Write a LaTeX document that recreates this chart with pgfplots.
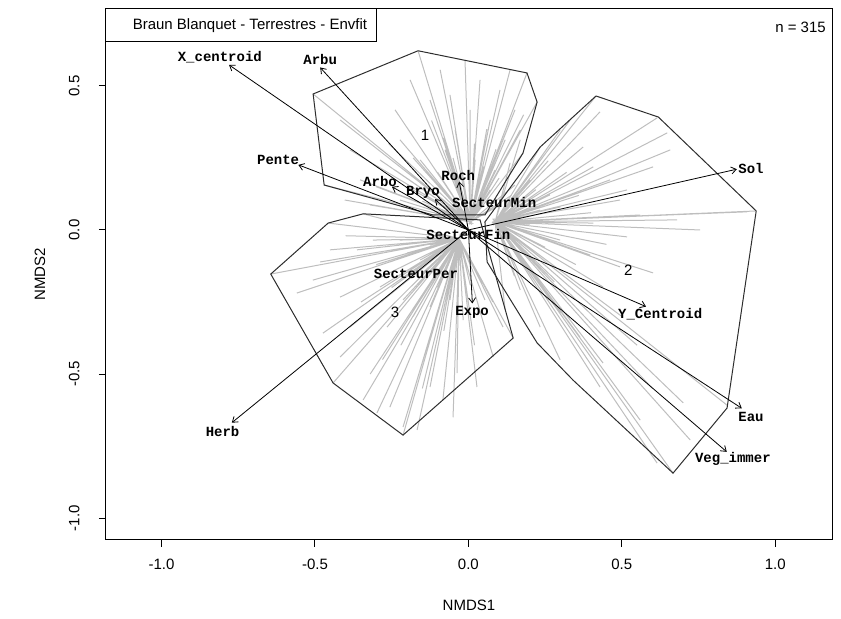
\documentclass[border=0pt]{standalone}
\usepackage{fontspec}
\setmainfont{Liberation Sans}
\setmonofont{Liberation Mono}
\usepackage{pgfplots}
\pgfplotsset{compat=1.18}
\usetikzlibrary{arrows.meta}

\definecolor{spider}{RGB}{190,190,190}
\definecolor{hull}{RGB}{45,45,45}
\newcommand\vlab[1]{{\fontsize{7}{8}\selectfont\ttfamily\bfseries #1}}
\newcommand\sans{\fontsize{7.5}{9}\selectfont}

\begin{document}
\begin{tikzpicture}
\useasboundingbox (-53pt,-39.5pt) rectangle (367.5pt,270pt);
\begin{axis}[
    at={(0,0)}, anchor=south west,
    scale only axis, width=363pt, height=265.5pt,
    xmin=-1.181, xmax=1.185, ymin=-1.076, ymax=0.767,
    xtick={-1,-0.5,0,0.5,1}, ytick={-1,-0.5,0,0.5},
    tick align=outside, major tick length=3.5pt,
    xtick pos=left, ytick pos=left,
    tick style={black, line width=0.5pt},
    axis line style={black, line width=0.5pt},
    xticklabel style={font=\sans, anchor=north, inner sep=0pt},
    yticklabel style={font=\sans, rotate=90, anchor=south, inner sep=0pt},
    xticklabel shift=6pt, yticklabel shift=9.5pt,
    /pgf/number format/.cd, fixed, fixed zerofill, precision=1, assume math mode=true,
    /pgfplots/.cd,
    xlabel={NMDS1}, ylabel={NMDS2},
    every axis x label/.style={at={(axis description cs:0.5,0)}, anchor=center, yshift=-32.5pt, font=\sans},
    every axis y label/.style={at={(axis description cs:0,0.5)}, anchor=center, rotate=90, yshift=33pt, font=\sans},
]

% spiders: centre -> sites (group 1)
\addplot[spider, line width=0.5pt, mark=none] coordinates {
(0.006,0.028) (-0.164,0.622) (0.006,0.028) (-0.506,0.472) (0.006,0.028) (-0.470,0.156)
(0.006,0.028) (0.191,0.545) (0.006,0.028) (0.224,0.444) (0.006,0.028) (0.178,0.267)
(0.006,0.028) (-0.239,0.417) (0.006,0.028) (-0.223,0.313) (0.006,0.028) (-0.190,0.521)
(0.006,0.028) (-0.125,0.451) (0.006,0.028) (-0.092,0.556) (0.006,0.028) (-0.060,0.469)
(0.006,0.028) (-0.043,0.347) (0.006,0.028) (-0.011,0.590) (0.006,0.028) (0.006,0.417)
(0.006,0.028) (0.038,0.521) (0.006,0.028) (0.071,0.382) (0.006,0.028) (0.103,0.486)
(0.006,0.028) (0.120,0.313) (0.006,0.028) (0.136,0.556) (0.006,0.028) (0.152,0.417)
(0.006,0.028) (-0.239,0.208) (0.006,0.028) (-0.386,0.278) (0.006,0.028) (-0.418,0.382)
(0.006,0.028) (-0.353,0.174) (0.006,0.028) (-0.288,0.243) (0.006,0.028) (-0.157,0.243)
(0.006,0.028) (-0.076,0.278) (0.006,0.028) (0.022,0.243) (0.006,0.028) (0.087,0.208)
(0.006,0.028) (0.169,0.347) (0.006,0.028) (-0.403,0.104) (0.006,0.028) (-0.321,0.087)
(0.006,0.028) (-0.223,0.104) (0.006,0.028) (-0.125,0.139) (0.006,0.028) (-0.043,0.156)
(0.006,0.028) (0.071,0.139) (0.006,0.028) (0.152,0.156) (0.006,0.028) (0.103,0.087)
(0.006,0.028) (-0.100,0.200) (0.006,0.028) (-0.050,0.250) (0.006,0.028) (0.050,0.220)
(0.006,0.028) (0.100,0.180) (0.006,0.028) (-0.150,0.100) (0.006,0.028) (-0.200,0.150)
(0.006,0.028) (0.120,0.250) (0.006,0.028) (-0.080,0.320) (0.006,0.028) (0.020,0.300)
(0.006,0.028) (0.060,0.350) (0.006,0.028) (-0.180,0.250) (0.006,0.028) (-0.300,0.150)
(0.006,0.028) (0.140,0.120) (0.006,0.028) (-0.120,0.380) (0.006,0.028) (0.090,0.280)
(0.006,0.028) (-0.020,0.120) (0.006,0.028) (-0.260,0.300) (0.006,0.028) (0.180,0.400)
};
% group 2
\addplot[spider, line width=0.5pt, mark=none] coordinates {
(0.087,0.028) (0.416,0.465) (0.087,0.028) (0.429,0.410) (0.087,0.028) (0.615,0.389)
(0.087,0.028) (0.648,0.337) (0.087,0.028) (0.658,0.278) (0.087,0.028) (0.602,0.219)
(0.087,0.028) (0.938,0.066) (0.087,0.028) (0.908,0.063) (0.087,0.028) (0.517,-0.024)
(0.087,0.028) (0.407,0.024) (0.087,0.028) (0.602,-0.149) (0.087,0.028) (0.494,-0.128)
(0.087,0.028) (0.439,-0.198) (0.087,0.028) (0.354,-0.219) (0.087,0.028) (0.299,-0.288)
(0.087,0.028) (0.234,-0.337) (0.087,0.028) (0.364,-0.372) (0.087,0.028) (0.439,-0.462)
(0.087,0.028) (0.299,-0.451) (0.087,0.028) (0.843,-0.608) (0.087,0.028) (0.667,-0.844)
(0.087,0.028) (0.615,-0.809) (0.087,0.028) (0.429,-0.545) (0.087,0.028) (0.136,0.233)
(0.087,0.028) (0.169,0.313) (0.087,0.028) (0.234,0.288) (0.087,0.028) (0.299,0.347)
(0.087,0.028) (0.332,0.382) (0.087,0.028) (0.374,0.288) (0.087,0.028) (0.407,0.219)
(0.087,0.028) (0.517,0.139) (0.087,0.028) (0.462,0.174) (0.087,0.028) (0.680,0.035)
(0.087,0.028) (0.755,0.000) (0.087,0.028) (0.234,0.069) (0.087,0.028) (0.299,-0.035)
(0.087,0.028) (0.201,-0.104) (0.087,0.028) (0.266,0.122) (0.087,0.028) (0.169,-0.208)
(0.087,0.028) (0.120,-0.278) (0.087,0.028) (0.397,-0.087) (0.087,0.028) (0.201,0.174)
(0.087,0.028) (0.494,0.104) (0.087,0.028) (0.560,0.052) (0.087,0.028) (0.723,-0.729)
(0.087,0.028) (0.560,-0.660) (0.087,0.028) (0.200,0.020) (0.087,0.028) (0.250,-0.060)
(0.087,0.028) (0.300,0.080) (0.087,0.028) (0.220,0.140) (0.087,0.028) (0.180,-0.120)
(0.087,0.028) (0.350,-0.120) (0.087,0.028) (0.320,0.200) (0.087,0.028) (0.400,0.060)
(0.087,0.028) (0.280,-0.180) (0.087,0.028) (0.150,-0.160) (0.087,0.028) (0.360,0.120)
(0.087,0.028) (0.450,-0.050) (0.087,0.028) (0.260,0.240) (0.087,0.028) (0.210,-0.250)
(0.087,0.028) (0.500,-0.300) (0.087,0.028) (0.550,-0.400) (0.087,0.028) (0.600,-0.550)
(0.087,0.028) (0.700,-0.600)
};
% group 3
\addplot[spider, line width=0.5pt, mark=none] coordinates {
(-0.030,-0.030) (-0.644,-0.153) (-0.030,-0.030) (-0.441,-0.531) (-0.030,-0.030) (-0.213,-0.712)
(-0.030,-0.030) (-0.457,0.024) (-0.030,-0.030) (-0.343,0.056) (-0.030,-0.030) (0.146,-0.375)
(-0.030,-0.030) (-0.451,-0.069) (-0.030,-0.030) (-0.483,-0.111) (-0.030,-0.030) (-0.418,-0.233)
(-0.030,-0.030) (-0.386,-0.337) (-0.030,-0.030) (-0.418,-0.441) (-0.030,-0.030) (-0.343,-0.590)
(-0.030,-0.030) (-0.298,-0.635) (-0.030,-0.030) (-0.256,-0.615) (-0.030,-0.030) (-0.213,-0.684)
(-0.030,-0.030) (-0.167,-0.694) (-0.030,-0.030) (-0.125,-0.545) (-0.030,-0.030) (-0.083,-0.590)
(-0.030,-0.030) (-0.037,-0.497) (-0.030,-0.030) (0.028,-0.545) (-0.030,-0.030) (0.081,-0.441)
(-0.030,-0.030) (0.113,-0.337) (-0.030,-0.030) (-0.507,-0.174) (-0.030,-0.030) (-0.559,-0.219)
(-0.030,-0.030) (-0.474,-0.358) (-0.030,-0.030) (-0.288,-0.198) (-0.030,-0.030) (-0.213,-0.243)
(-0.030,-0.030) (-0.265,-0.337) (-0.030,-0.030) (-0.125,-0.267) (-0.030,-0.030) (-0.017,-0.313)
(-0.030,-0.030) (-0.363,-0.069) (-0.030,-0.030) (-0.311,-0.035) (-0.030,-0.030) (-0.157,-0.104)
(-0.030,-0.030) (-0.092,-0.174) (-0.030,-0.030) (-0.223,-0.035) (-0.030,-0.030) (-0.060,-0.243)
(-0.030,-0.030) (-0.190,-0.156) (-0.030,-0.030) (-0.125,-0.052) (-0.030,-0.030) (-0.256,-0.111)
(-0.030,-0.030) (-0.043,-0.122) (-0.030,-0.030) (0.006,-0.191) (-0.030,-0.030) (0.054,-0.243)
(-0.030,-0.030) (-0.150,-0.150) (-0.030,-0.030) (-0.200,-0.080) (-0.030,-0.030) (-0.100,-0.200)
(-0.030,-0.030) (-0.250,-0.200) (-0.030,-0.030) (-0.050,-0.150) (-0.030,-0.030) (-0.300,-0.120)
(-0.030,-0.030) (-0.180,-0.300) (-0.030,-0.030) (-0.080,-0.350) (-0.030,-0.030) (-0.120,-0.420)
(-0.030,-0.030) (-0.220,-0.400) (-0.030,-0.030) (-0.350,-0.250) (-0.030,-0.030) (-0.400,-0.020)
(-0.030,-0.030) (-0.280,-0.450) (-0.030,-0.030) (0.020,-0.400) (-0.030,-0.030) (-0.150,-0.550)
(-0.030,-0.030) (-0.050,-0.650) (-0.030,-0.030) (0.080,-0.250) (-0.030,-0.030) (-0.320,-0.500)
};

% hulls
\addplot[hull, line width=0.5pt, mark=none] coordinates {
(-0.164,0.622) (0.191,0.545) (0.224,0.444) (0.178,0.267) (0.054,0.052)
(-0.115,0.052) (-0.470,0.156) (-0.506,0.472) (-0.164,0.622)};
\addplot[hull, line width=0.5pt, mark=none] coordinates {
(0.416,0.465) (0.619,0.392) (0.938,0.066) (0.843,-0.618) (0.667,-0.844)
(0.341,-0.521) (0.224,-0.392) (0.061,-0.111) (0.054,0.028) (0.234,0.288) (0.416,0.465)};
\addplot[hull, line width=0.5pt, mark=none] coordinates {
(-0.457,0.024) (-0.343,0.056) (0.038,0.035) (0.146,-0.375) (-0.213,-0.712)
(-0.441,-0.531) (-0.644,-0.153) (-0.457,0.024)};

% envfit vectors
\pgfplotsset{vec/.style={black, line width=0.4pt, mark=none, -{Straight Barb[length=2.5pt,width=3.5pt]}}}
\addplot[vec] coordinates {(0,0) (-0.780,0.573)};
\addplot[vec] coordinates {(0,0) (-0.483,0.564)};
\addplot[vec] coordinates {(0,0) (-0.554,0.226)};
\addplot[vec] coordinates {(0,0) (-0.249,0.150)};
\addplot[vec] coordinates {(0,0) (-0.109,0.107)};
\addplot[vec] coordinates {(0,0) (-0.030,0.168)};
\addplot[vec] coordinates {(0,0) (0.013,-0.255)};
\addplot[vec] coordinates {(0,0) (0.875,0.211)};
\addplot[vec] coordinates {(0,0) (0.579,-0.266)};
\addplot[vec] coordinates {(0,0) (0.891,-0.619)};
\addplot[vec] coordinates {(0,0) (0.842,-0.770)};
\addplot[vec] coordinates {(0,0) (-0.771,-0.669)};

% labels
\node at (axis cs:-0.810,0.601) {\vlab{X\_centroid}};
\node at (axis cs:-0.483,0.590) {\vlab{Arbu}};
\node at (axis cs:-0.620,0.243) {\vlab{Pente}};
\node at (axis cs:-0.288,0.167) {\vlab{Arbo}};
\node at (axis cs:-0.148,0.132) {\vlab{Bryo}};
\node at (axis cs:-0.033,0.188) {\vlab{Roch}};
\node at (axis cs:0.084,0.094) {\vlab{SecteurMin}};
\node at (axis cs:0.000,-0.017) {\vlab{SecteurFin}};
\node at (axis cs:-0.171,-0.153) {\vlab{SecteurPer}};
\node at (axis cs:0.012,-0.285) {\vlab{Expo}};
\node at (axis cs:0.921,0.215) {\vlab{Sol}};
\node at (axis cs:0.625,-0.292) {\vlab{Y\_Centroid}};
\node at (axis cs:0.921,-0.649) {\vlab{Eau}};
\node at (axis cs:0.862,-0.795) {\vlab{Veg\_immer}};
\node at (axis cs:-0.801,-0.701) {\vlab{Herb}};

\node[font=\sans] at (axis cs:-0.141,0.330) {1};
\node[font=\sans] at (axis cs:0.521,-0.139) {2};
\node[font=\sans] at (axis cs:-0.239,-0.285) {3};

% title box and n
\draw[black, line width=0.5pt] (rel axis cs:0,1) rectangle (axis cs:-0.301,0.653);
\node[font=\sans] at (axis cs:-0.712,0.708) {Braun Blanquet - Terrestres - Envfit};
\node[font=\sans, anchor=east, inner sep=0pt] at (axis cs:1.166,0.705) {n = 315};
\end{axis}
\end{tikzpicture}
\end{document}
